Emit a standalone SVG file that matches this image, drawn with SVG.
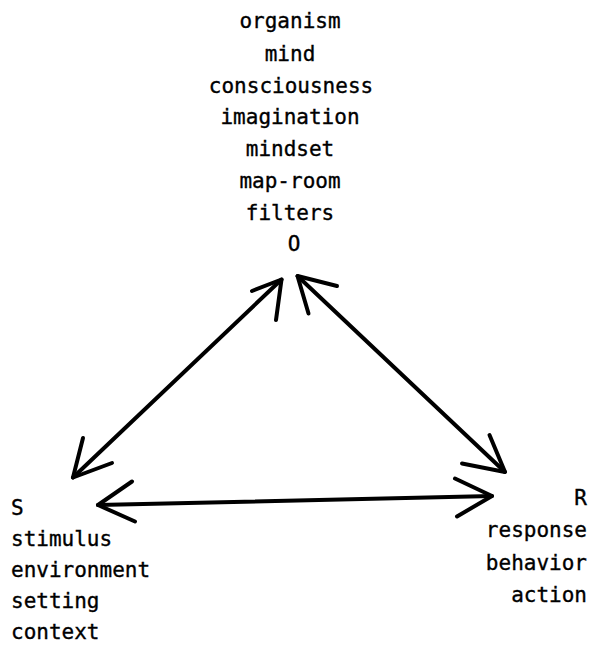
<svg xmlns="http://www.w3.org/2000/svg" width="592" height="645" viewBox="0 0 592 645">
<style>
text { font-family: "DejaVu Sans Mono", "Liberation Mono", monospace; font-size: 21px; fill: #000; stroke: #000; stroke-width: 0.35; }
.c { text-anchor: middle; }
.r { text-anchor: end; }
.ln { fill: none; stroke: #000; stroke-width: 4; stroke-linecap: round; stroke-linejoin: round; }
</style>
<rect width="592" height="645" fill="#fff"/>
<g id="node-O">
<text class="c" x="290" y="28">organism</text>
<text class="c" x="290" y="61">mind</text>
<text class="c" x="291" y="93">consciousness</text>
<text class="c" x="290" y="124">imagination</text>
<text class="c" x="290" y="156">mindset</text>
<text class="c" x="290" y="188">map-room</text>
<text class="c" x="290" y="220">filters</text>
<text class="c" x="294" y="251">O</text>
</g>
<g id="node-S">
<text x="11" y="515">S</text>
<text x="11" y="546">stimulus</text>
<text x="11" y="577">environment</text>
<text x="11" y="608">setting</text>
<text x="11" y="639">context</text>
</g>
<g id="node-R">
<text class="r" x="587" y="505">R</text>
<text class="r" x="587" y="537">response</text>
<text class="r" x="587" y="570">behavior</text>
<text class="r" x="587" y="602">action</text>
</g>
<g id="connectors">
<!-- O <-> S -->
<path class="ln" d="M281.5,279.5 L73,477.5"/>
<path class="ln" d="M252,291 L281.5,279.5 L276,320"/>
<path class="ln" d="M83,438 L73,477.5 L112,463"/>
<!-- O <-> R -->
<path class="ln" d="M297.5,276 L505,472"/>
<path class="ln" d="M337,286 L297.5,276 L308.5,313.5"/>
<path class="ln" d="M489.5,435 L505,472 L462,463.5"/>
<!-- S <-> R -->
<path class="ln" d="M98,505 L492,496"/>
<path class="ln" d="M132,481.5 L98,505 L135,521.5"/>
<path class="ln" d="M455,478.5 L492,496 L457,516.5"/>
</g>
</svg>
